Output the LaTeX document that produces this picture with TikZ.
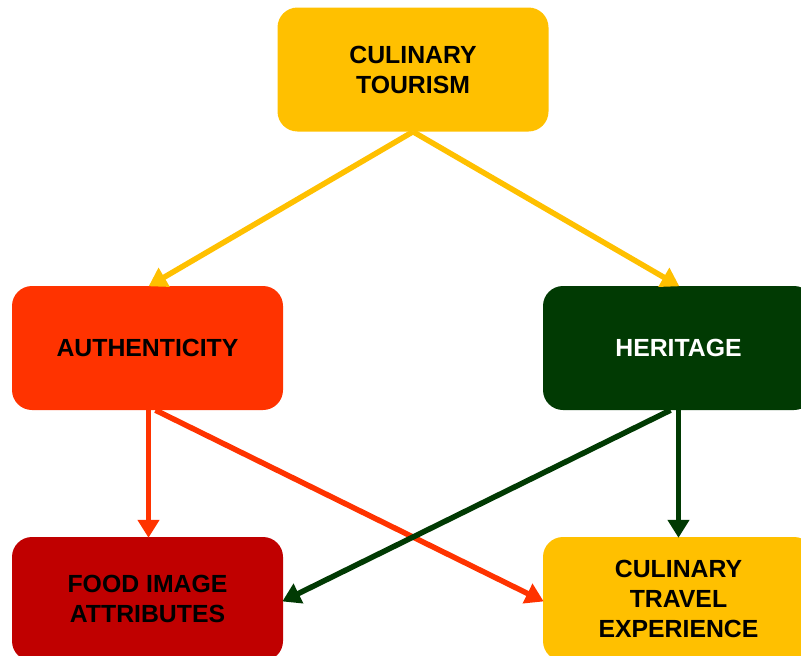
\documentclass[tikz,border=0pt]{standalone}
\usepackage{fontspec}
\setmainfont{Liberation Sans}
\usetikzlibrary{arrows.meta}
\definecolor{cgold}{HTML}{FFC000}
\definecolor{corange}{HTML}{FF3300}
\definecolor{cgreen}{HTML}{013A03}
\definecolor{cred}{HTML}{C00000}
\begin{document}
\begin{tikzpicture}[x=1pt,y=-1pt,
  box/.style={rectangle, rounded corners=20pt, minimum width=271pt, minimum height=124pt,
    inner sep=0pt, align=center, font=\bfseries\fontsize{24.8}{30}\selectfont, text=black},
  conn/.style={line width=5.5pt, -{Triangle[width=21pt,length=18pt]}, shorten >=-1pt}]
\useasboundingbox (0,0) rectangle (801,656);
\clip (0,0) rectangle (801,656);
\node[box, fill=cgold] (ct) at (413,69.5) {CULINARY\\TOURISM};
\node[box, fill=corange] (au) at (147.5,348) {AUTHENTICITY};
\node[box, fill=cgreen, text=white] (he) at (678.5,348) {HERITAGE};
\node[box, fill=cred] (fi) at (147.5,599) {FOOD IMAGE\\ATTRIBUTES};
\node[box, fill=cgold] (te) at (678.5,599) {CULINARY\\TRAVEL\\EXPERIENCE};
\draw[conn, cgold] (ct.south) -- ([xshift=2pt]au.north);
\draw[conn, cgold] (ct.south) -- (he.north);
\draw[conn, corange] ([xshift=1pt]au.south) -- ([xshift=1pt]fi.north);
\draw[conn, corange] ([xshift=8pt]au.south) -- ([yshift=-2pt]te.west);
\draw[conn, cgreen] (he.south) -- (te.north);
\draw[conn, cgreen] ([xshift=-8pt]he.south) -- ([yshift=-2pt]fi.east);
\end{tikzpicture}
\end{document}
